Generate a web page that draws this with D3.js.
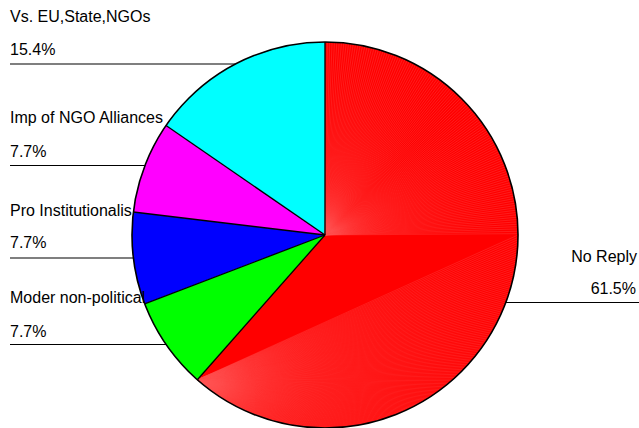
<!DOCTYPE html>
<html>
<head>
<meta charset="utf-8">
<script src="https://cdn.jsdelivr.net/npm/d3@7"></script>
<style>
  html, body { margin: 0; padding: 0; background: #fff; }
  svg { display: block; }
  text { font-family: "Liberation Sans", Arial, sans-serif; font-size: 16px; fill: #000; }
</style>
</head>
<body>
<svg id="chart" width="639" height="428"></svg>
<script>
// Survey answers, in clockwise order from 12 o'clock
const categories = ["No Reply", "Moder non-political", "Pro Institutionalis", "Imp of NGO Alliances", "Vs. EU,State,NGOs"];
const shares = [61.5, 7.7, 7.7, 7.7, 15.4];
const pctLabels = ["61.5%", "7.7%", "7.7%", "7.7%", "15.4%"];
const sliceColors = ["#ff0000", "#00ff00", "#0000ff", "#ff00ff", "#00ffff"];

const W = 639, H = 428;
const cx = 325, cy = 235, R = 193;

const svg = d3.select("#chart");
const g = svg.append("g").attr("transform", `translate(${cx},${cy})`);

const pie = d3.pie().sort(null).value(d => d)(shares);
const arc = d3.arc().innerRadius(0).outerRadius(R);
const onRim = a => [R * Math.sin(a), -R * Math.cos(a)];

// slices
g.selectAll("path.slice")
  .data(pie)
  .join("path")
  .attr("class", "slice")
  .attr("d", arc)
  .attr("fill", (d, i) => sliceColors[i])
  .attr("stroke", "none");

// triangle-fan shading on the large slice:
// the first quarter fans out from the centre, the rest from the slice's far corner
const big = pie[0];
const fan = g.append("g").attr("stroke", "#ff5454").attr("stroke-width", 0.34);
const step = 0.7 * Math.PI / 180;
const quarter = Math.PI / 2;
for (let a = big.startAngle; a <= quarter; a += step) {
  const [x, y] = onRim(a);
  fan.append("line").attr("x1", 0).attr("y1", 0).attr("x2", x).attr("y2", y);
}
const [px, py] = onRim(big.endAngle);
for (let a = quarter; a < big.endAngle - step; a += step) {
  const [x, y] = onRim(a);
  fan.append("line").attr("x1", px).attr("y1", py).attr("x2", x).attr("y2", y);
}

// radial separators between slices
const seps = pie.map(d => d.startAngle).filter(a => a > 0.001);
seps.push(0);
g.selectAll("line.sep")
  .data(seps)
  .join("line")
  .attr("class", "sep")
  .attr("x1", 0).attr("y1", 0)
  .attr("x2", a => onRim(a)[0])
  .attr("y2", a => onRim(a)[1])
  .attr("stroke", "#000")
  .attr("stroke-width", 1.3);

// outline
g.append("circle").attr("r", R).attr("fill", "none").attr("stroke", "#000").attr("stroke-width", 1.6);

// labels: left column for the small slices, right side for the largest
const leftRows = [
  { i: 4, top: 22, pct: 55, rule: 64 },
  { i: 3, top: 123, pct: 157, rule: 165.5 },
  { i: 2, top: 216, pct: 248, rule: 258 },
  { i: 1, top: 303, pct: 337, rule: 344.5 }
];
const edgeX = (y, side) => {
  const dy = y - cy;
  const dx = Math.sqrt(Math.max(0, R * R - dy * dy));
  return cx + side * dx;
};

leftRows.forEach(r => {
  svg.append("text").attr("x", 10).attr("y", r.top).text(categories[r.i]);
  svg.append("text").attr("x", 10).attr("y", r.pct).text(pctLabels[r.i]);
  svg.append("line")
    .attr("x1", 10).attr("x2", edgeX(r.rule, -1))
    .attr("y1", r.rule).attr("y2", r.rule)
    .attr("stroke", "#000").attr("stroke-width", 1.2);
});

const rightRow = { i: 0, top: 262, pct: 294, rule: 302.5 };
svg.append("text").attr("x", 637).attr("y", rightRow.top).attr("text-anchor", "end").text(categories[rightRow.i]);
svg.append("text").attr("x", 636).attr("y", rightRow.pct).attr("text-anchor", "end").text(pctLabels[rightRow.i]);
svg.append("line")
  .attr("x1", edgeX(rightRow.rule, 1)).attr("x2", W)
  .attr("y1", rightRow.rule).attr("y2", rightRow.rule)
  .attr("stroke", "#000").attr("stroke-width", 1.2);
</script>
</body>
</html>
